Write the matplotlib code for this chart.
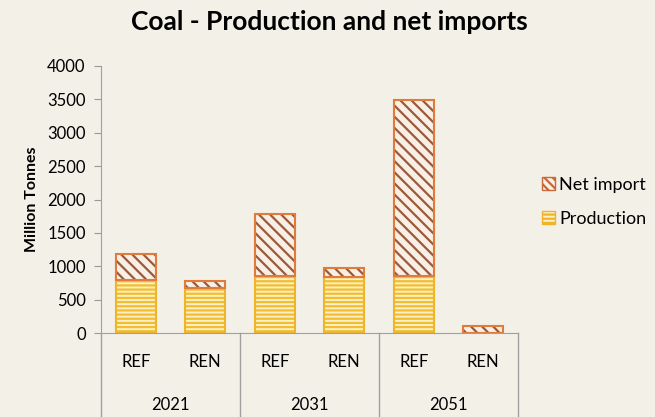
import matplotlib.pyplot as plt
from matplotlib.patches import Patch
import matplotlib.transforms as mtransforms

plt.rcParams['font.family'] = ['Lato', 'DejaVu Sans']
plt.rcParams['hatch.linewidth'] = 1.6

years = ["2021", "2031", "2051"]
scenarios = ["REF", "REN", "REF", "REN", "REF", "REN"]
production = [800, 680, 850, 840, 860, 0]
net_import = [380, 100, 940, 140, 2630, 100]
yticks = list(range(0, 4001, 500))

bg = "#f3f0e8"
fig = plt.figure(figsize=(6.55, 4.17), dpi=100, facecolor=bg)
ax = fig.add_axes([101 / 655, 1 - 333 / 417, 417 / 655, 267 / 417], facecolor=bg)

x = list(range(len(scenarios)))
w = 0.58
# production
ax.bar(x, production, w, color="#fbf0c8", edgecolor="#f2bd2e", hatch="----", linewidth=0)
ax.bar(x, production, w, fill=False, edgecolor="#f0b429", linewidth=1.5)
# net import
ax.bar(x, net_import, w, bottom=production, color="#f8f0e6", edgecolor="#9c5a3a", hatch="\\\\\\", linewidth=0)
ax.bar(x, net_import, w, bottom=production, fill=False, edgecolor="#e07b39", linewidth=1.5)

ax.set_xlim(-0.5, len(scenarios) - 0.5)
ax.set_ylim(0, 4000)
ax.set_yticks(yticks)
ax.set_yticklabels([str(v) for v in yticks], fontsize=12)
ax.tick_params(axis="y", direction="out", length=5, color="#999999", pad=6)
ax.set_xticks([])
for s in ["top", "right"]:
    ax.spines[s].set_visible(False)
for s in ["left", "bottom"]:
    ax.spines[s].set_color("#a0a0a0")
ax.spines["bottom"].set_bounds(-0.5, len(scenarios) - 0.5)
ax.spines["left"].set_bounds(0, 4000)

ax.set_ylabel("Million Tonnes", fontsize=11.5, fontweight="bold", labelpad=6)

trans = mtransforms.blended_transform_factory(ax.transData, ax.transAxes)
for sep in [-0.5, 1.5, 3.5, 5.5]:
    ax.plot([sep, sep], [0, -0.33], transform=trans, color="#a0a0a0", lw=1, clip_on=False)
for i, s in enumerate(scenarios):
    ax.text(i, -0.11, s, transform=trans, ha="center", va="center", fontsize=12)
for j, yr in enumerate(years):
    ax.text(2 * j + 0.5, -0.27, yr, transform=trans, ha="center", va="center", fontsize=12)

fig.text(329 / 655, 1 - 22 / 417, "Coal - Production and net imports", ha="center", va="center",
         fontsize=19, fontweight="bold")

handles = [Patch(facecolor="#f8f0e6", edgecolor="#c8693a", hatch="\\\\\\\\", label="Net import"),
           Patch(facecolor="#fbf0c8", edgecolor="#f0b429", hatch="----", label="Production")]
fig.legend(handles=handles, loc="center left", bbox_to_anchor=(533 / 655, 1 - 202 / 417),
           frameon=False, fontsize=13, handlelength=0.7, handleheight=0.7, handletextpad=0.25,
           labelspacing=1.0, borderpad=0)

fig.savefig("out.png", dpi=100, facecolor=bg)
